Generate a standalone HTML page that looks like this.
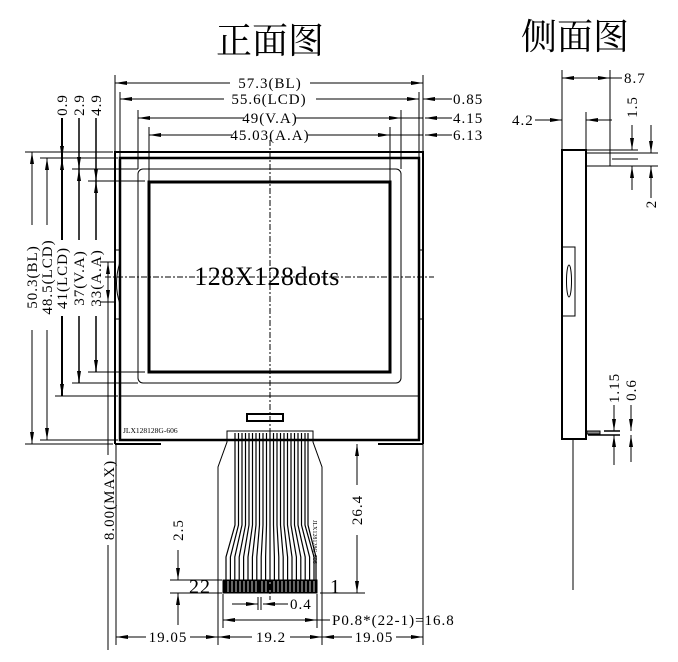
<!DOCTYPE html>
<html><head><meta charset="utf-8"><style>
html,body{margin:0;padding:0;background:#fff;}
svg{display:block;}
text{font-family:"Liberation Serif","Noto Serif CJK SC",serif;fill:#000;}
</style></head><body>
<svg width="678" height="662" viewBox="0 0 678 662" xmlns="http://www.w3.org/2000/svg">
<defs>
<marker id="a" viewBox="0 0 12 4" refX="12" refY="2" markerWidth="12" markerHeight="4" markerUnits="userSpaceOnUse" orient="auto-start-reverse"><path d="M0,0L12,2L0,4z" fill="#000"/></marker>
</defs>
<text x="270" y="53" font-size="36" text-anchor="middle" style="font-family:'Noto Serif CJK SC',serif">正面图</text>
<text x="575" y="49" font-size="36" text-anchor="middle" style="font-family:'Noto Serif CJK SC',serif">侧面图</text>

<g stroke="#000" fill="none" stroke-width="1">
<path d="M115,444V152H423V444" stroke-width="2"/>
<path d="M115,444H161M378,444H423" stroke-width="2"/>
<rect x="120" y="158" width="299" height="282" stroke-width="2.5"/>
<rect x="138" y="169" width="263" height="214" rx="5"/>
<rect x="149" y="182" width="241" height="190" stroke-width="3"/>
<path d="M120,396H419"/>
<path d="M115,250H120V319H115M423,250H419V319H423"/>
<path d="M120,262Q113,284 120,304"/>
<rect x="247" y="414" width="36" height="7" stroke-width="2"/>
<rect x="227" y="431" width="86" height="9"/>
<path d="M227,440V442L218,467V593M313,440V442L322,467V593"/>
<rect x="223" y="580" width="94" height="13" fill="#000"/>
</g>
<g stroke="#000" stroke-width="1.2" fill="none">
<path d="M235,433V525L226,557V580M238.5,433V525L230.4,557V580M242,433V525L234.8,557V580M245.5,433V525L239.2,557V580M249,433V525L243.6,557V580M252.5,433V525L248,557V580M256,433V525L252.4,557V580M259.5,433V525L256.8,557V580M263,433V525L261.2,557V580M266.5,433V525L265.6,557V580M270,433V525L270,557V580M273.5,433V525L274.4,557V580M277,433V525L278.8,557V580M280.5,433V525L283.2,557V580M284,433V525L287.6,557V580M287.5,433V525L292,557V580M291,433V525L296.4,557V580M294.5,433V525L300.8,557V580M298,433V525L305.2,557V580M301.5,433V525L309.6,557V580M305,433V525L314,557V580M308,433V525L316,557V580"/>
</g>
<g stroke="#fff" stroke-width="0.8">
<path d="M228,581V592M232,581V592M236,581V592M240,581V592M244,581V592M248,581V592M252,581V592M256,581V592M262,581V592M266,581V592M270,581V592M274,581V592M278,581V592M282,581V592M286,581V592M290,581V592M294,581V592M298,581V592M302,581V592M306,581V592M310,581V592M314,581V592"/>
</g>
<g stroke="#000" stroke-width="1" stroke-dasharray="6,2,2,2" fill="none">
<path d="M270,140V600"/>
<path d="M105,277H434"/>
</g>
<text x="267" y="285" font-size="26" text-anchor="middle" letter-spacing="0.5">128X128dots</text>
<text x="123" y="433" font-size="7.5">JLX128128G-606</text>
<text x="0" y="0" font-size="6" transform="translate(313,520) rotate(90)">JLX128128G-606</text>

<g stroke="#000" stroke-width="1" fill="none">
<path d="M115,75V152M423,75V152M120,92V158M419,92V158M138,110V169M401,110V169M149,127V182M390,127V182"/>
<path d="M115,83H230" marker-start="url(#a)"/><path d="M310,83H423" marker-end="url(#a)"/>
<path d="M120,99H224" marker-start="url(#a)"/><path d="M316,99H419" marker-end="url(#a)"/>
<path d="M138,118H244" marker-start="url(#a)"/><path d="M296,118H401" marker-end="url(#a)"/>
<path d="M149,135H232" marker-start="url(#a)"/><path d="M308,135H390" marker-end="url(#a)"/>
<path d="M452,99H423" marker-end="url(#a)"/>
<path d="M452,118H425" marker-end="url(#a)"/>
<path d="M452,135H425" marker-end="url(#a)"/>
<path d="M401,118H423M390,135H423"/>
<path d="M25,152H113M40,158H118M72,169H138M88,181H145M88,372H145M72,383H138M55,396H118M40,440H118M25,444H113"/>
<path d="M32,225V152" marker-end="url(#a)"/><path d="M32,330V444" marker-end="url(#a)"/>
<path d="M47,225V158" marker-end="url(#a)"/><path d="M47,330V440" marker-end="url(#a)"/>
<path d="M62,118V158" marker-end="url(#a)" stroke-width="2"/><path d="M62,240V158" marker-end="url(#a)" stroke-width="2"/><path d="M62,316V396" marker-end="url(#a)" stroke-width="2"/>
<path d="M79,118V169" marker-end="url(#a)" stroke-width="1.5"/><path d="M79,240V169" marker-end="url(#a)" stroke-width="1.5"/><path d="M79,316V383" marker-end="url(#a)" stroke-width="1.5"/>
<path d="M96,118V181" marker-end="url(#a)" stroke-width="1.5"/><path d="M96,240V181" marker-end="url(#a)" stroke-width="1.5"/><path d="M96,316V372" marker-end="url(#a)" stroke-width="1.5"/>
<path d="M100,262H115M100,302H115"/>
<path d="M108,285V262" marker-end="url(#a)"/><path d="M108,285V302" marker-end="url(#a)"/>
<path d="M108,302V455M108,545V650M100,440H115"/>
<path d="M116,444V645M218,593V645M322,593V645M423,444V645"/>
<path d="M146,637H116" marker-end="url(#a)"/><path d="M190,637H218" marker-end="url(#a)"/>
<path d="M252,637H218" marker-end="url(#a)"/><path d="M290,637H322" marker-end="url(#a)"/>
<path d="M352,637H322" marker-end="url(#a)"/><path d="M396,637H423" marker-end="url(#a)"/>
<path d="M223,594V628M317,594V628"/>
<path d="M270,620H223" marker-end="url(#a)"/><path d="M270,620H317" marker-end="url(#a)"/>
<path d="M317,620H330"/>
<path d="M232,604H258" marker-end="url(#a)"/><path d="M288,604H263" marker-end="url(#a)"/>
<path d="M258,597V610M261,597V610"/>
<path d="M170,580H222M170,593H222M320,593H365"/>
<path d="M178,550V580" marker-end="url(#a)"/><path d="M178,625V593" marker-end="url(#a)"/>
<path d="M357,485V444" marker-end="url(#a)"/><path d="M357,535V593" marker-end="url(#a)"/>
</g>
<g font-size="15" letter-spacing="1">
<text x="270" y="88" text-anchor="middle">57.3(BL)</text>
<text x="269" y="104" text-anchor="middle">55.6(LCD)</text>
<text x="270" y="123" text-anchor="middle">49(V.A)</text>
<text x="270" y="140" text-anchor="middle">45.03(A.A)</text>
<text x="453" y="104">0.85</text>
<text x="453" y="123">4.15</text>
<text x="453" y="140">6.13</text>
<g text-anchor="middle">
<text transform="translate(67,105) rotate(-90)">0.9</text>
<text transform="translate(84,105) rotate(-90)">2.9</text>
<text transform="translate(101,105) rotate(-90)">4.9</text>
<text transform="translate(37,277) rotate(-90)">50.3(BL)</text>
<text transform="translate(52,277) rotate(-90)">48.5(LCD)</text>
<text transform="translate(67,278) rotate(-90)">41(LCD)</text>
<text transform="translate(84,278) rotate(-90)">37(V.A)</text>
<text transform="translate(101,278) rotate(-90)">33(A.A)</text>
<text transform="translate(114,500) rotate(-90)">8.00(MAX)</text>
<text transform="translate(183,530) rotate(-90)">2.5</text>
<text transform="translate(362,510) rotate(-90)">26.4</text>
<text x="168" y="642">19.05</text>
<text x="271" y="642">19.2</text>
<text x="374" y="642">19.05</text>
</g>
<text x="290" y="609">0.4</text>
<text x="332" y="625">P0.8*(22-1)=16.8</text>
<text x="189" y="593" font-size="20">22</text>
<text x="330" y="593" font-size="20">1</text>
</g>

<g stroke="#000" fill="none" stroke-width="1">
<rect x="562" y="150" width="24" height="289" stroke-width="2"/>
<path d="M562,247H575V316H562"/>
<ellipse cx="569" cy="281" rx="2.5" ry="16"/>
<path d="M586,150H638M612,159H638M586,166H658M586,153H658" />
<path d="M562,70V150M610,70V166M586,112V150"/>
<path d="M586,78H562" marker-end="url(#a)"/><path d="M586,78H610" marker-end="url(#a)"/><path d="M610,78H622"/>
<path d="M535,120H562" marker-end="url(#a)"/><path d="M612,120H586" marker-end="url(#a)"/>
<path d="M632,125V150" marker-end="url(#a)"/><path d="M632,190V166" marker-end="url(#a)"/>
<path d="M651,125V153" marker-end="url(#a)"/><path d="M651,198V166" marker-end="url(#a)"/>
<path d="M573,439V590"/>
<path d="M604,431H620M588,435H620" stroke-width="1.5"/>
<rect x="587" y="431" width="13" height="3" fill="#888"/>
<path d="M614,405V431" marker-end="url(#a)"/><path d="M614,465V435" marker-end="url(#a)"/>
<path d="M631,405V431" marker-end="url(#a)"/><path d="M631,462V435" marker-end="url(#a)"/>
</g>
<g font-size="15" letter-spacing="1">
<text x="624" y="83">8.7</text>
<text x="512" y="125">4.2</text>
<g text-anchor="middle">
<text transform="translate(637,107) rotate(-90)">1.5</text>
<text transform="translate(656,204) rotate(-90)">2</text>
<text transform="translate(619,388) rotate(-90)">1.15</text>
<text transform="translate(636,390) rotate(-90)">0.6</text>
</g>
</g>
</svg>
</body></html>
